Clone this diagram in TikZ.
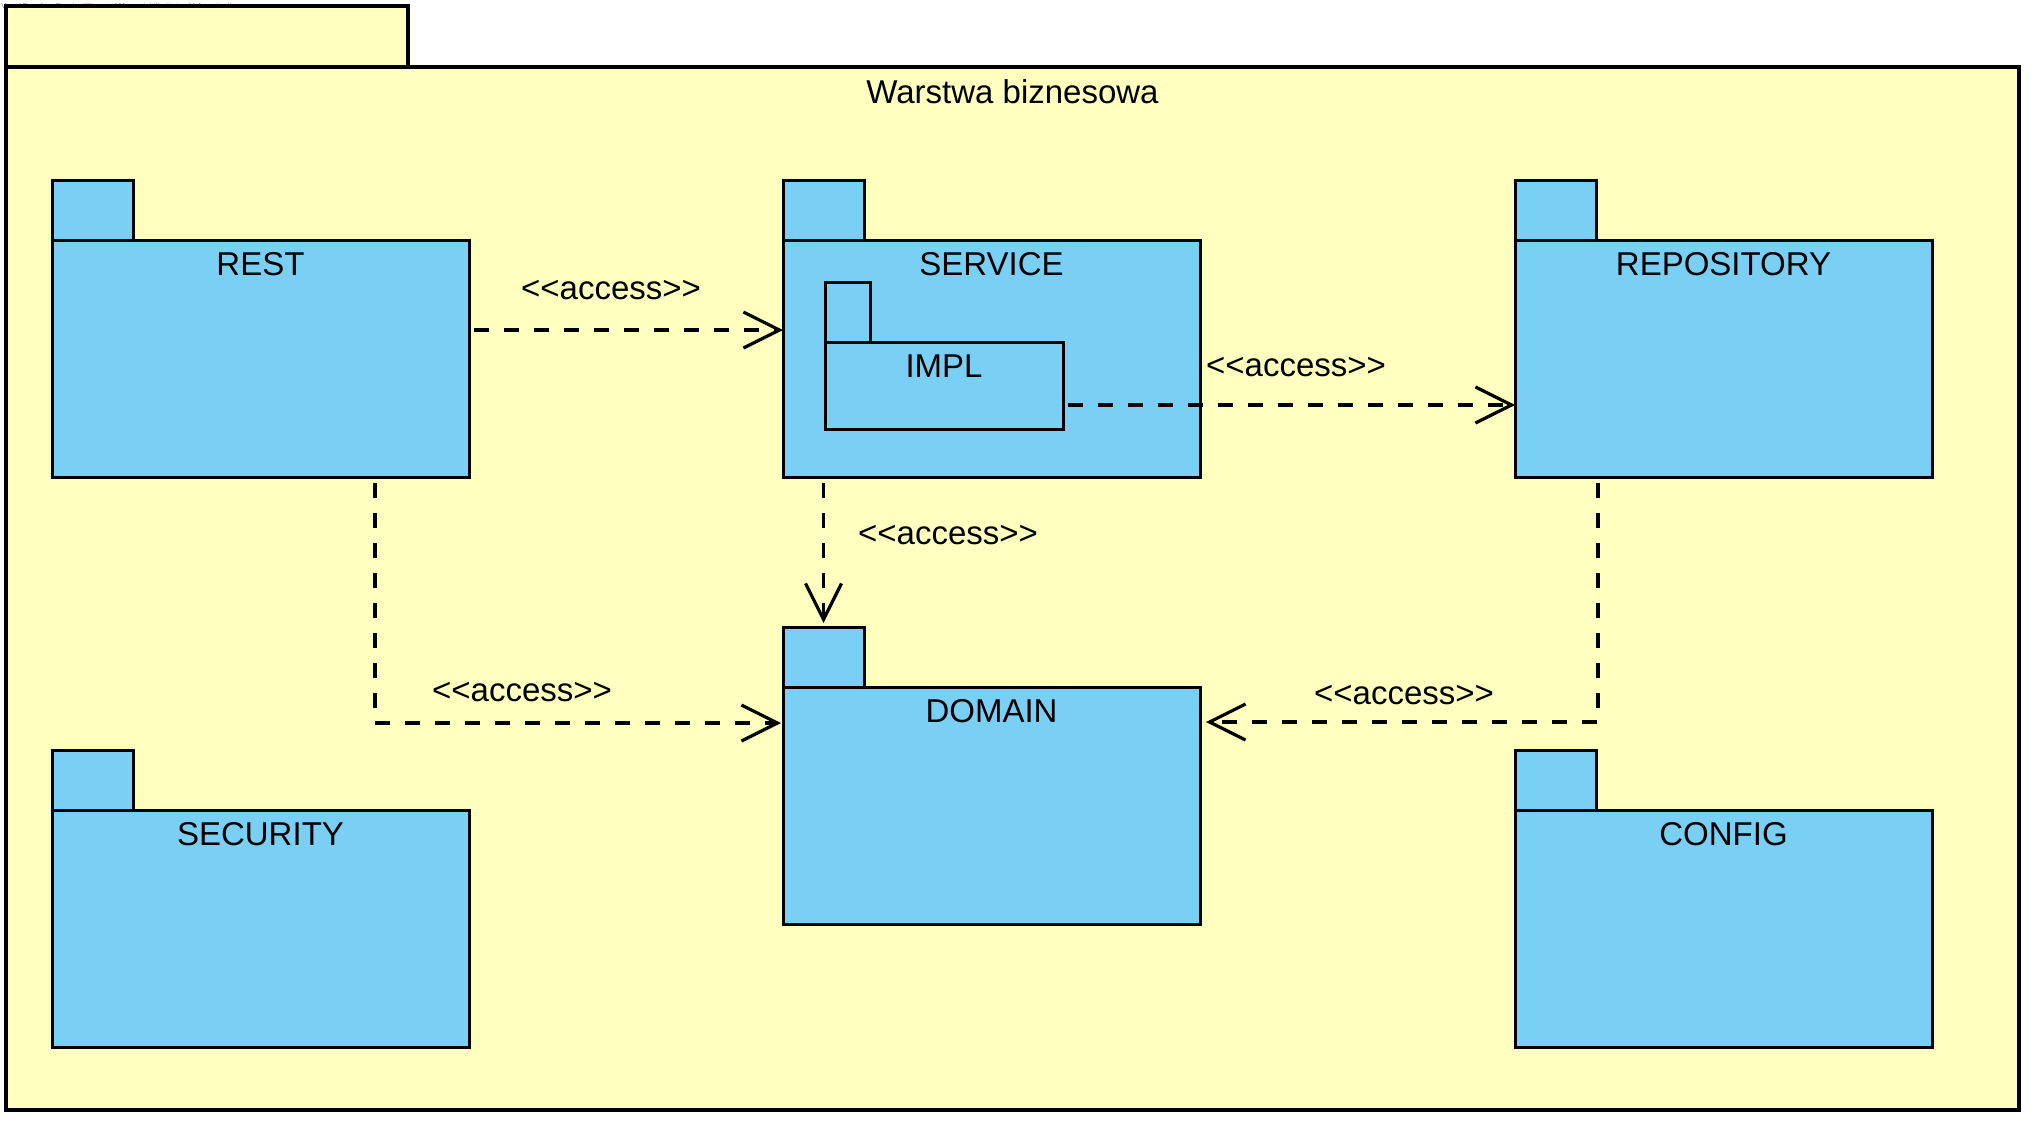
\documentclass[tikz,border=0pt]{standalone}
\usepackage{fontspec}
\setmainfont{Liberation Sans}
\usetikzlibrary{arrows.meta}
\definecolor{pkgyellow}{RGB}{255,255,192}
\definecolor{pkgblue}{RGB}{122,207,245}
% stereotype text, kerns keep << from turning into a guillemet
\newcommand{\accesstext}{<\kern0pt<access>\kern0pt>}

\begin{document}
\begin{tikzpicture}[x=0.5pt,y=-0.5pt,
  font=\fontsize{16.5}{20}\selectfont,
  pkgbody/.style={draw, fill=pkgblue, line width=1.5pt, anchor=north west,
    minimum width=208.5pt, minimum height=118.5pt, inner sep=0pt, outer sep=0pt},
  pkgtab/.style={draw, fill=pkgblue, line width=1.5pt, anchor=south west,
    minimum width=40.5pt, minimum height=30pt, inner sep=0pt, outer sep=0pt},
  access/.style={dash pattern=on 7.5pt off 7.5pt, line width=1.6pt,
    -{Straight Barb[length=18pt,width=18pt]}}]
\useasboundingbox (0,0) rectangle (2034,1125);
% Watermark in the corner
\node[anchor=west, inner sep=0pt, text=gray, font=\fontsize{3.6}{4}\selectfont] (mark) at (1,7)
  {Visual Paradigm Standard(Krzysztof Marczyński(Institute of Informatics))};
% Draw the outer package
\node[draw, fill=pkgyellow, line width=2pt, anchor=north west, inner sep=0pt, outer sep=0pt,
  minimum width=201pt, minimum height=30.5pt] (biz-tab) at (6,6) {};
\node[draw, fill=pkgyellow, line width=2pt, anchor=north west, inner sep=0pt, outer sep=0pt,
  minimum width=1006.5pt, minimum height=521.5pt] (biz) at (6,67) {};
\node[anchor=base] (biz-t) at ([yshift=-18pt]biz.north) {Warstwa biznesowa};
% Draw the packages inside
% Label them with their names near the top
\foreach \n/\x/\y/\t in {rest/52/240/REST, service/783/240/SERVICE,
  repository/1515/240/REPOSITORY, domain/783/687/DOMAIN,
  security/52/810/SECURITY, config/1515/810/CONFIG}
{
  \node[pkgtab] (\n-tab) at (\x,\y) {};
  \node[pkgbody] (\n) at (\x,\y) {};
  \node[anchor=base] (\n-t) at ([yshift=-17.5pt]\n.north) {\t};
}
% The package nested in SERVICE
\node[pkgtab, minimum width=22.5pt] (impl-tab) at (825,342) {};
\node[pkgbody, minimum width=119pt, minimum height=43.5pt] (impl) at (825,342) {};
\node[anchor=base] (impl-t) at ([yshift=-17.5pt]impl.north) {IMPL};
% Draw the dependencies
\draw[access] ([shift={(5,90)}]rest.north east) coordinate (a1) -- (a1 -| service.west);
\draw[access] ([shift={(5,63)}]impl.north east) coordinate (a2) -- (a2 -| repository.west);
\draw[access] ([yshift=-3pt]service.south -| domain-tab.north) coordinate (a3)
  -- ([yshift=2pt]domain-tab.north);
\draw[access] ([shift={(323,6)}]rest.south west) coordinate (a4)
  |- ([shift={(-2,36)}]domain.north west);
\draw[access] ([shift={(-334,6)}]repository.south east) coordinate (a5)
  |- ([shift={(6,35)}]domain.north east);
% The stereotypes next to them
\node (l1) at (611,290) {\accesstext};
\node (l2) at (1296,367) {\accesstext};
\node (l3) at (948,535) {\accesstext};
\node (l4) at (522,692) {\accesstext};
\node (l5) at (1404,695) {\accesstext};
\end{tikzpicture}
\end{document}
